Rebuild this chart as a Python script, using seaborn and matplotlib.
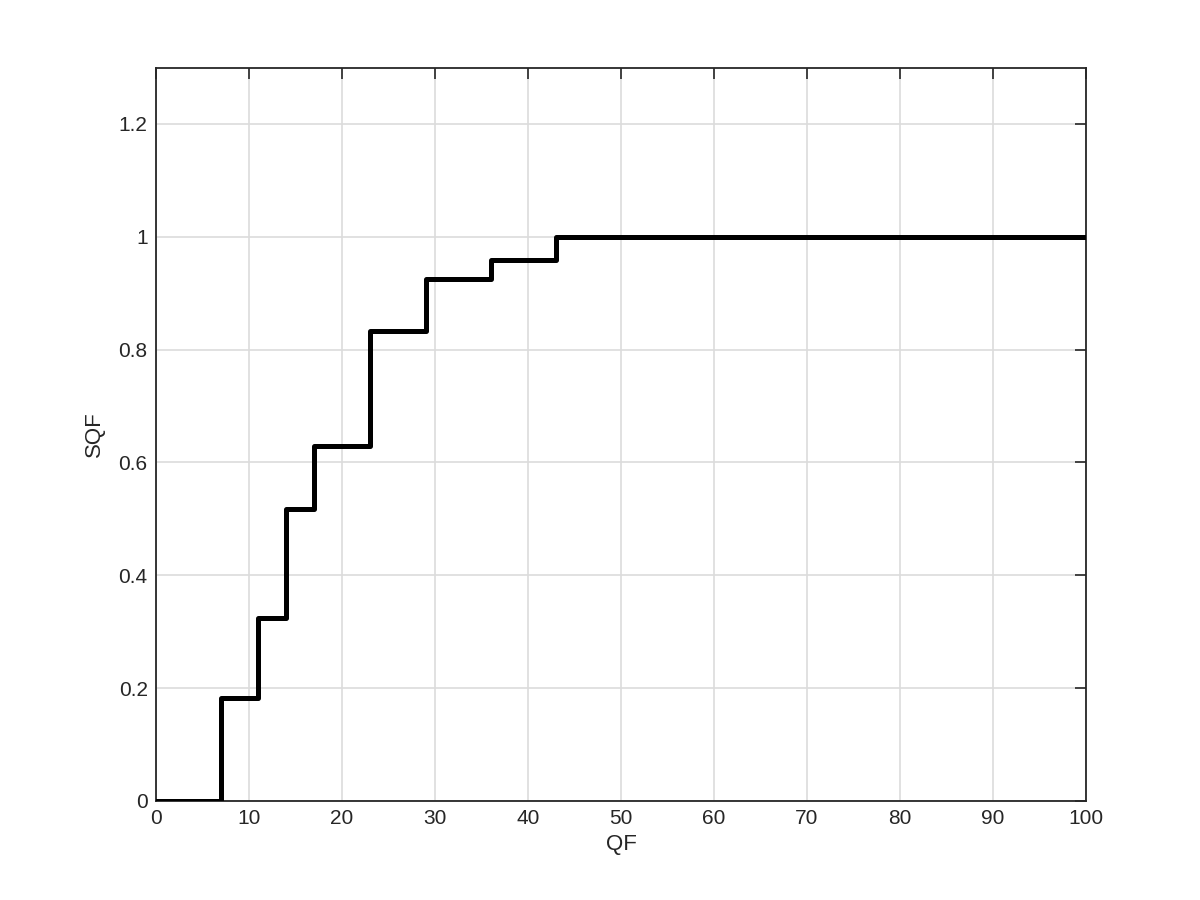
import numpy as np
import pandas as pd
import matplotlib
matplotlib.use("Agg")
import matplotlib.pyplot as plt
import seaborn as sns

# step points (steps-post)
qf = [0, 7, 11, 14, 17, 23, 29, 36, 43, 100]
sqf = [0, 0.182, 0.325, 0.517, 0.629, 0.833, 0.925, 0.958, 1.0, 1.0]
x_ticks = list(range(0, 101, 10))
y_ticks = [0, 0.2, 0.4, 0.6, 0.8, 1.0, 1.2]
y_tick_labels = ["0", "0.2", "0.4", "0.6", "0.8", "1", "1.2"]

sns.set_theme(style="white")
plt.rcParams["font.family"] = ["Liberation Sans", "DejaVu Sans"]

df = pd.DataFrame({"QF": qf, "SQF": sqf})

fig = plt.figure(figsize=(12, 9), dpi=100)
ax = fig.add_axes([0.13, 0.11, 0.775, 0.815])

sns.lineplot(data=df, x="QF", y="SQF", drawstyle="steps-post",
             color="black", linewidth=3.6, ax=ax, zorder=3)

ax.set_xlim(0, 100)
ax.set_ylim(0, 1.3)
ax.set_xticks(x_ticks)
ax.set_yticks(y_ticks)
ax.set_yticklabels(y_tick_labels)

ax.grid(True, color="#dcdcdc", linewidth=1.2)
ax.set_axisbelow(True)

for s in ax.spines.values():
    s.set_visible(True)
    s.set_color("#262626")
    s.set_linewidth(1.3)

ax.tick_params(direction="in", length=8, width=1.2, color="#262626",
               top=True, right=True, labelsize=15, labelcolor="#262626", pad=6)

ax.set_xlabel("QF", fontsize=16, color="#262626", labelpad=4)
ax.set_ylabel("SQF", fontsize=16, color="#262626", labelpad=10)

fig.savefig("out.png", dpi=100)
plt.close(fig)
